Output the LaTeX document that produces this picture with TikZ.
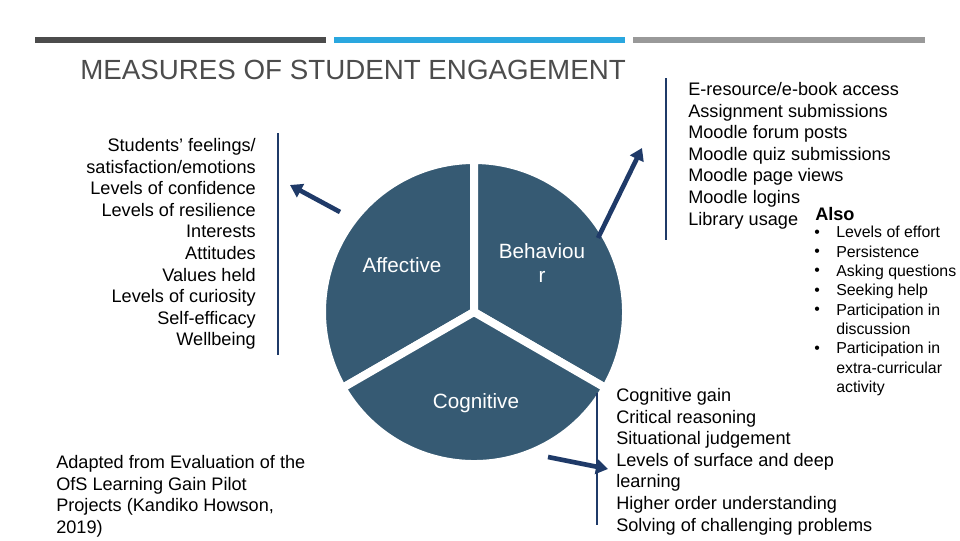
\documentclass[tikz,border=0pt]{standalone}
\usepackage{fontspec}
\setmainfont{Liberation Sans}
\usetikzlibrary{arrows.meta, positioning}
\definecolor{slate}{HTML}{365A73}
\definecolor{navy}{HTML}{1F3A68}
\definecolor{barblue}{HTML}{2AA7DF}
\tikzset{
  sector/.style={fill=slate, draw=white, line width=6pt, line join=round},
  rim/.style={draw=slate!30, line width=1pt},
  pointer/.style={navy, line width=3.5pt, -{Triangle[length=9pt,width=11pt]}},
  rule/.style={navy, line width=2pt},
  list/.style={inner sep=0pt, font=\fontsize{13.6}{16.2}\selectfont},
  small/.style={inner sep=0pt, font=\fontsize{11.9}{14.5}\selectfont},
  pielabel/.style={text=white, font=\fontsize{15.5}{18}\selectfont}
}
\begin{document}
\begin{tikzpicture}[x=0.75pt, y=-0.75pt]
      \useasboundingbox (0,0) rectangle (960,540);
      % top bars
      \fill[black!70] (35,37) rectangle (326,43);
      \fill[barblue] (334,37) rectangle (625,43);
      \fill[black!40] (633,37) rectangle (925,43);
      \node[anchor=west, inner sep=0pt, text=black!70, font=\fontsize{20.8}{22}\selectfont] (title) at (80,70) {MEASURES OF STUDENT ENGAGEMENT};

      % pie
      \coordinate (c) at (474,312);
      \begin{scope}[shift={(c)}, yscale=-1]
        \draw[rim] (0,0) circle (153);
        \draw[sector] (0,0) -- (90:152) arc[start angle=90, end angle=210, radius=152] -- cycle;
        \draw[sector] (0,0) -- (-30:152) arc[start angle=-30, end angle=90, radius=152] -- cycle;
        \draw[sector] (0,0) -- (210:152) arc[start angle=210, end angle=330, radius=152] -- cycle;
      \end{scope}
      \node[pielabel] (aff) at (402,265) {Affective};
      \node[pielabel, align=center] (beh) at (542,263) {Behaviou\\r};
      \node[pielabel] (cog) at (476,403) {Cognitive};

      % affective list
      \node[list, anchor=north east, align=right] (afflist) at (256,138) {Students’ feelings/\\satisfaction/emotions\\Levels of confidence\\Levels of resilience\\Interests\\Attitudes\\Values held\\Levels of curiosity\\Self-efficacy\\Wellbeing};
      \draw[rule] (278,133) -- (278,355);
      \coordinate (affend) at (290,185);
      \draw[pointer] (340,212) -- (affend);

      % behaviour list
      \node[list, anchor=north west, align=left] (behlist) at (688,82) {E-resource/e-book access\\Assignment submissions\\Moodle forum posts\\Moodle quiz submissions\\Moodle page views\\Moodle logins\\Library usage};
      \draw[rule] (666,78) -- (666,240);
      \coordinate (behend) at (642,148);
      \draw[pointer] (598,238) -- (behend);
      \node[list, anchor=west, font=\bfseries\fontsize{13.6}{16}\selectfont] (also) at (815,214) {Also};
      \node[small, anchor=north west, align=left] (alsolist) at (836,226) {Levels of effort\\Persistence\\Asking questions\\Seeking help\\Participation in\\discussion\\Participation in\\extra-curricular\\activity};
      \foreach \y in {234,253,272,292,311,350} {
        \node[small, anchor=west] (b\y) at (814,\y) {•};
      }

      % cognitive list
      \node[list, anchor=north west, align=left] (coglist) at (616,388) {Cognitive gain\\Critical reasoning\\Situational judgement\\Levels of surface and deep\\learning\\Higher order understanding\\Solving of challenging problems};
      \draw[rule] (597,393) -- (597,525);
      \coordinate (cogend) at (608,469);
      \draw[pointer] (548,457) -- (cogend);

      % source
      \node[list, anchor=north west, align=left] (src) at (56,455) {Adapted from Evaluation of the\\OfS Learning Gain Pilot\\Projects (Kandiko Howson,\\2019)};
\end{tikzpicture}
\end{document}
